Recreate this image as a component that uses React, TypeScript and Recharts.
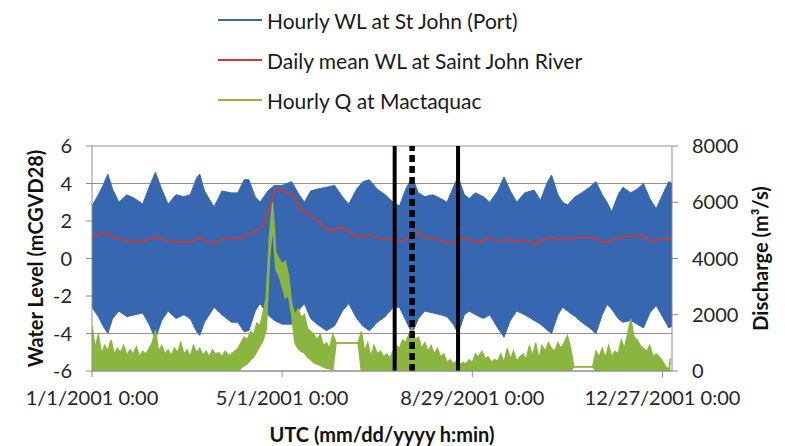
import { ComposedChart, Area, Line, XAxis, YAxis, CartesianGrid, ReferenceLine, Label } from 'recharts'

// x values are days since 1/1/2001 0:00 UTC
const xTicks = [0, 120, 240, 360]
const xTickLabels = ['1/1/2001 0:00', '5/1/2001 0:00', '8/29/2001 0:00', '12/27/2001 0:00']
const wlTicks = [-6, -4, -2, 0, 2, 4, 6]
const qTicks = [0, 2000, 4000, 6000, 8000]

// hourly WL at St John (Port): envelope of the tidal signal (m)
const tideDays = [
  0, 4, 7, 10, 13, 17, 22, 27, 32, 36,
  40, 44, 48, 53, 58, 62, 66, 68, 71, 77,
  82, 88, 92, 96, 99, 103, 106, 111, 115, 120,
  126, 130, 134, 138, 142, 148, 153, 158, 162, 167,
  171, 175, 180, 185, 190, 194, 198, 202, 206, 210,
  215, 220, 224, 228, 231, 235, 238, 242, 247, 251,
  256, 260, 264, 268, 273, 279, 283, 287, 290, 294,
  297, 300, 305, 309, 314, 318, 322, 325, 328, 332,
  335, 340, 344, 348, 352, 356, 360, 364, 366,
]
const tideHigh = [
  2.8, 3.4, 3.9, 4.5, 3.7, 3.0, 3.4, 3.2, 2.9, 3.8,
  4.6, 3.7, 2.9, 3.4, 3.3, 3.4, 4.3, 4.5, 3.6, 2.75,
  3.6, 3.5, 3.5, 4.2, 4.2, 3.3, 3.0, 3.6, 3.9, 3.9,
  4.1, 3.5, 3.0, 3.6, 3.7, 3.8, 3.9, 3.3, 2.9, 3.7,
  4.1, 4.2, 3.7, 3.4, 3.0, 2.8, 3.7, 4.35, 3.5, 3.3,
  3.4, 3.2, 3.0, 3.8, 4.35, 3.4, 3.2, 3.5, 3.3, 3.0,
  3.6, 4.35, 3.6, 3.0, 3.5, 3.65, 3.1, 4.0, 4.45, 3.4,
  3.0, 2.85, 3.3, 3.5, 3.8, 4.1, 3.4, 3.0, 2.5, 3.4,
  3.8, 3.5, 3.7, 4.0, 3.2, 2.65, 3.4, 4.1, 4.0,
]
const tideLow = [
  -2.6, -3.1, -3.6, -4.0, -3.2, -2.8, -3.1, -3.0, -2.9, -3.5,
  -4.3, -3.3, -2.8, -3.2, -3.0, -3.2, -3.9, -4.1, -3.4, -2.6,
  -3.0, -3.4, -3.4, -3.9, -3.85, -2.8, -2.4, -3.0, -3.3, -3.5,
  -3.5, -2.8, -2.4, -3.2, -3.5, -3.85, -3.6, -2.8, -2.4, -3.2,
  -3.6, -3.85, -3.4, -3.1, -2.6, -2.6, -3.3, -4.0, -3.2, -2.8,
  -2.9, -3.0, -3.1, -3.5, -4.0, -3.0, -2.8, -3.0, -3.2, -3.0,
  -3.7, -4.2, -3.3, -2.8, -3.0, -3.3, -3.5, -3.8, -4.0, -3.0,
  -2.6, -2.8, -3.1, -3.4, -3.7, -4.0, -3.0, -2.45, -2.7, -3.2,
  -3.4, -3.3, -3.5, -3.7, -2.9, -2.5, -3.1, -3.7, -3.6,
]

// daily mean WL at Saint John River (m)
const meanDays = [
  0, 4, 8, 13, 20, 27, 33, 40, 47, 56,
  62, 68, 73, 78, 82, 88, 94, 100, 105, 108,
  111, 114, 116, 119, 122, 127, 132, 138, 144, 149,
  153, 157, 162, 168, 176, 183, 190, 197, 200, 204,
  210, 218, 224, 228, 232, 238, 244, 250, 256, 262,
  268, 276, 280, 284, 290, 296, 301, 308, 315, 319,
  323, 329, 335, 342, 347, 352, 357, 366,
]
const meanWL = [
  1.3, 1.25, 1.4, 1.15, 1.0, 0.9, 0.95, 1.15, 0.95, 0.9,
  0.85, 1.15, 0.85, 0.8, 1.05, 1.05, 1.1, 1.35, 1.55, 1.75,
  2.4, 3.3, 3.75, 3.65, 3.55, 3.35, 2.6, 2.3, 1.9, 1.5,
  1.5, 1.7, 1.4, 1.15, 1.25, 1.05, 1.0, 0.95, 1.1, 1.45,
  1.15, 1.0, 0.85, 0.8, 1.05, 1.0, 0.9, 1.05, 0.95, 1.0,
  0.95, 0.9, 0.75, 1.0, 1.1, 1.0, 1.05, 1.15, 1.1, 1.05,
  0.85, 1.0, 1.15, 1.2, 1.25, 0.95, 1.0, 1.05,
]

// hourly Q at Mactaquac: low / high of the daily cycle (m3/s)
const qDays = [
  0, 2, 4, 6, 8, 10, 12, 14, 16, 18,
  20, 22, 24, 26, 28, 30, 32, 34, 36, 38,
  40, 42, 44, 46, 48, 50, 52, 54, 56, 58,
  60, 62, 64, 66, 68, 70, 72, 74, 76, 78,
  80, 82, 84, 86, 88, 90, 92, 94, 96, 98,
  100, 102, 104, 106, 108, 110, 112, 114, 116, 118,
  120, 122, 124, 126, 128, 130, 132, 134, 136, 138,
  140, 142, 144, 146, 148, 150, 152, 154, 168,
  170, 172, 174, 176, 178, 180, 182, 184, 186, 188,
  190, 192, 194, 196, 198, 200, 202, 204, 206, 208,
  210, 212, 214, 216, 218, 220, 222, 224, 226, 228,
  230, 232, 234, 236, 238, 240, 242, 244, 246, 248,
  250, 252, 254, 256, 258, 260, 262, 264, 266, 268,
  270, 272, 274, 276, 278, 280, 282, 284, 286, 288,
  290, 292, 294, 296, 298, 300, 302, 304, 316,
  318, 320, 322, 324, 326, 328, 330, 332, 334, 336,
  338, 340, 342, 344, 346, 348, 350, 352, 354, 356,
  358, 360, 362, 364, 365,
]
const qHigh = [
  1600, 800, 1300, 600, 900, 700, 1100, 600, 800, 650,
  900, 550, 750, 600, 850, 500, 700, 600, 800, 1000,
  1450, 700, 900, 600, 750, 550, 800, 650, 1000, 600,
  750, 500, 900, 650, 800, 550, 700, 500, 750, 600,
  650, 500, 700, 550, 600, 700, 800, 1000, 1200, 1100,
  1400, 1300, 1700, 1600, 2100, 2600, 4800, 6000, 4200, 4000,
  3800, 3900, 3400, 2400, 2000, 2200, 1900, 2000, 1500, 1400,
  1300, 1100, 1300, 900, 1000, 800, 1300, 1000, 1000,
  1400, 700, 1000, 500, 900, 600, 700, 500, 600, 450,
  700, 900, 800, 1100, 1000, 1300, 1500, 1100, 1200, 800,
  1000, 700, 900, 600, 800, 500, 600, 300, 400, 250,
  350, 200, 300, 250, 400, 300, 600, 500, 700, 450,
  500, 300, 400, 350, 600, 300, 800, 400, 700, 350,
  500, 600, 400, 900, 500, 1000, 400, 900, 700, 1000,
  800, 700, 1000, 800, 1000, 1250, 800, 150, 150,
  700, 500, 800, 450, 900, 500, 700, 600, 1100, 800,
  1300, 1850, 1200, 1100, 900, 800, 700, 900, 500, 600,
  500, 350, 150, 50, 450,
]
const qLow = [
  0, 0, 0, 0, 0, 0, 0, 0, 0, 0,
  0, 0, 0, 0, 0, 0, 0, 0, 0, 0,
  0, 0, 0, 0, 0, 0, 0, 0, 0, 0,
  0, 0, 0, 0, 0, 0, 0, 0, 0, 0,
  0, 0, 0, 0, 0, 0, 0, 100, 200, 250,
  400, 500, 700, 900, 1100, 1500, 4000, 5200, 3600, 3400,
  3000, 2600, 2700, 2000, 1000, 800, 700, 650, 500, 400,
  300, 250, 200, 150, 100, 80, 50, 1000, 1000,
  0, 0, 0, 0, 0, 0, 0, 0, 0, 0,
  0, 0, 0, 0, 0, 0, 0, 0, 0, 0,
  0, 0, 0, 0, 0, 0, 0, 0, 0, 0,
  0, 0, 0, 0, 0, 0, 0, 0, 0, 0,
  0, 0, 0, 0, 0, 0, 0, 0, 0, 0,
  0, 0, 0, 0, 0, 0, 0, 0, 0, 0,
  0, 0, 0, 0, 0, 0, 0, 150, 150,
  0, 0, 0, 0, 0, 0, 0, 0, 0, 0,
  0, 0, 0, 0, 0, 0, 0, 0, 0, 0,
  0, 0, 0, 0, 0,
]

const solidMarkers = [191, 231]
const dashedMarkers = [202]

const legendItems = [
  { name: 'Hourly WL at St John (Port)', color: '#3767B0' },
  { name: 'Daily mean WL at Saint John River', color: '#D7372B' },
  { name: 'Hourly Q at Mactaquac', color: '#8AB63F' },
]

const tideData = tideDays.map((day, i) => ({ day, wl: [tideLow[i], tideHigh[i]] }))
const meanData = meanDays.map((day, i) => ({ day, wl: meanWL[i] }))
const qData = qDays.map((day, i) => ({ day, q: [qLow[i], qHigh[i]] }))

const FONT = 'Lato, "Open Sans", sans-serif'
const AXIS = '#8C8C8C'
const GRID = '#A38C8C'
const tickStyle = { fill: '#262626', fontSize: 20, fontFamily: FONT }
const titleStyle = { fill: '#111', fontSize: 20, fontWeight: 700, fontFamily: FONT, textAnchor: 'middle' as const }

export default function App() {
  return (
    <div style={{ position: 'absolute', left: 0, top: 0, width: 785, height: 446, fontFamily: FONT, background: '#fff' }}>
      <ComposedChart width={785} height={446} margin={{ top: 146, right: 0, bottom: 0, left: 0 }}>
        <CartesianGrid yAxisId="left" vertical={false} stroke={GRID} />
        <XAxis
          dataKey="day"
          type="number"
          domain={[0, 366]}
          ticks={xTicks}
          tickFormatter={(v: number) => xTickLabels[xTicks.indexOf(v)] ?? ''}
          allowDataOverflow
          height={75}
          stroke={AXIS}
          tickSize={6}
          tickMargin={14}
          tick={tickStyle}
        >
          <Label value="UTC (mm/dd/yyyy h:min)" position="insideBottom" offset={4} style={titleStyle} />
        </XAxis>
        <YAxis
          yAxisId="left"
          domain={[-6, 6]}
          ticks={wlTicks}
          allowDataOverflow
          width={92}
          stroke={AXIS}
          tickSize={6}
          tickMargin={14}
          tick={tickStyle}
        >
          <Label value="Water Level (mCGVD28)" angle={-90} position="insideLeft" offset={36} style={titleStyle} />
        </YAxis>
        <YAxis
          yAxisId="right"
          orientation="right"
          domain={[0, 8000]}
          ticks={qTicks}
          allowDataOverflow
          width={113}
          stroke={AXIS}
          tickSize={6}
          tickMargin={14}
          tick={tickStyle}
        >
          <Label value="Discharge (m³/s)" angle={-90} position="insideRight" offset={24} style={titleStyle} />
        </YAxis>
        <Area
          yAxisId="left"
          data={tideData}
          dataKey="wl"
          type="linear"
          stroke="#3767B0"
          strokeWidth={1}
          fill="#3767B0"
          fillOpacity={1}
          isAnimationActive={false}
        />
        <Area
          yAxisId="right"
          data={qData}
          dataKey="q"
          type="linear"
          stroke="#8AB63F"
          strokeWidth={1.5}
          fill="#8AB63F"
          fillOpacity={1}
          isAnimationActive={false}
        />
        <Line
          yAxisId="left"
          data={meanData}
          dataKey="wl"
          type="linear"
          stroke="#D7372B"
          strokeWidth={1.6}
          dot={false}
          isAnimationActive={false}
        />
        {solidMarkers.map((d) => (
          <ReferenceLine key={d} yAxisId="left" x={d} stroke="#000" strokeWidth={4} />
        ))}
        {dashedMarkers.map((d) => (
          <ReferenceLine key={d} yAxisId="left" x={d} stroke="#000" strokeWidth={5.5} strokeDasharray="7 4" />
        ))}
      </ComposedChart>
      <div style={{ position: 'absolute', left: 218, top: 0 }}>
        {legendItems.map((item) => (
          <div key={item.name} style={{ display: 'flex', alignItems: 'center', height: 40 }}>
            <div style={{ width: 44, height: 2, background: item.color, marginRight: 5 }} />
            <span style={{ fontSize: 21, color: '#1a1a1a' }}>{item.name}</span>
          </div>
        ))}
      </div>
    </div>
  )
}
